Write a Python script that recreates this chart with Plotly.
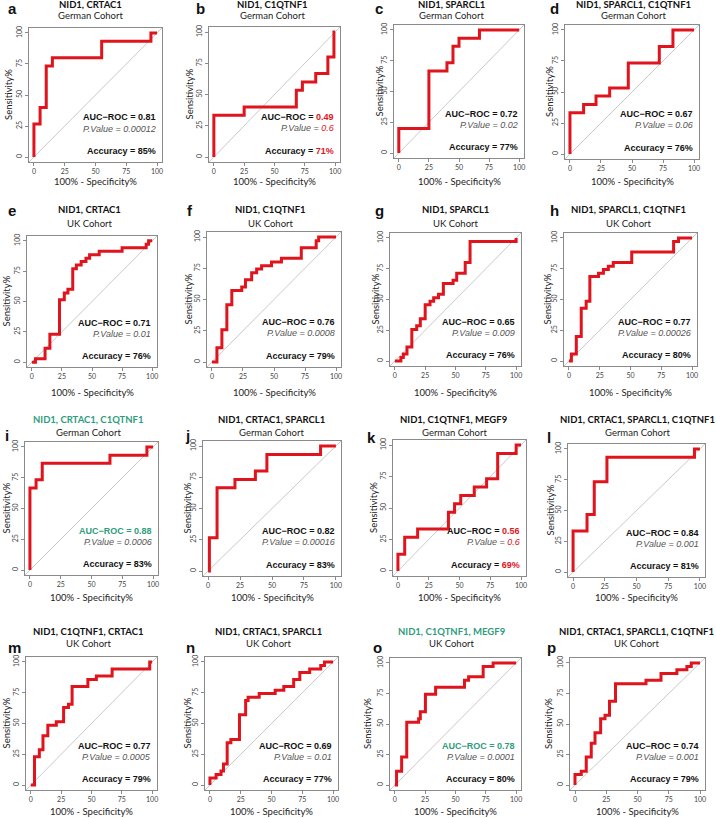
import plotly.graph_objects as go

# ---------------- data ----------------
letters = list("abcdefghijklmnop")
titles = ["NID1, CRTAC1", "NID1, C1QTNF1", "NID1, SPARCL1", "NID1, SPARCL1, C1QTNF1",
          "NID1, CRTAC1", "NID1, C1QTNF1", "NID1, SPARCL1", "NID1, SPARCL1, C1QTNF1",
          "NID1, CRTAC1, C1QTNF1", "NID1, CRTAC1, SPARCL1", "NID1, C1QTNF1, MEGF9",
          "NID1, CRTAC1, SPARCL1, C1QTNF1",
          "NID1, C1QTNF1, CRTAC1", "NID1, CRTAC1, SPARCL1", "NID1, C1QTNF1, MEGF9",
          "NID1, CRTAC1, SPARCL1, C1QTNF1"]
cohorts = ["German Cohort"] * 4 + ["UK Cohort"] * 4 + ["German Cohort"] * 4 + ["UK Cohort"] * 4
auc_roc = ["0.81", "0.49", "0.72", "0.67", "0.71", "0.76", "0.65", "0.77",
           "0.88", "0.82", "0.56", "0.84", "0.77", "0.69", "0.78", "0.74"]
p_values = ["0.00012", "0.6", "0.02", "0.06", "0.01", "0.0008", "0.009", "0.00026",
            "0.0006", "0.00016", "0.6", "0.001", "0.0005", "0.01", "0.0001", "0.001"]
accuracy = ["85%", "71%", "77%", "76%", "76%", "79%", "76%", "80%",
            "83%", "83%", "69%", "81%", "79%", "77%", "80%", "79%"]
# highlight: 'green' = best combination, 'red' = not significant
highlight = [None, "red", None, None, None, None, None, None,
             "green", None, "red", None, None, None, "green", None]

# ROC step curves: 100% - specificity (x) and sensitivity (y), in %
fpr_a = [0, 0, 5, 10, 15, 55, 95, 100]
sens_a = [0, 26.7, 40, 73.3, 80, 93.3, 100, 100]
fpr_b = [0, 0, 25, 68, 73, 84, 94, 99, 100]
sens_b = [0, 33.3, 40, 53.3, 60, 66.7, 80, 100, 100]
fpr_c = [0, 0, 25, 40, 45, 50, 67, 100]
sens_c = [0, 20, 66.7, 73.3, 86.7, 93.3, 100, 100]
fpr_d = [0, 0, 11, 21, 32, 47, 72, 83, 100]
sens_d = [0, 33.3, 40, 46.7, 53.3, 73.3, 86.7, 100, 100]
fpr_e = [0, 3, 11, 15, 23, 27, 30, 34, 37, 41, 45, 48, 56, 75, 95, 97, 100]
sens_e = [0, 2.9, 11.4, 22.9, 51.4, 57.1, 60, 77.1, 80, 82.9, 85.7, 88.6, 91.4, 94.3, 97.1, 100, 100]
fpr_f = [0, 4, 8, 12, 16, 24, 27, 32, 36, 40, 48, 56, 72, 84, 86, 100]
sens_f = [0, 11.4, 25.7, 45.7, 57.1, 60, 65.7, 71.4, 74.3, 77.1, 80, 82.9, 91.4, 97.1, 100, 100]
fpr_g = [0, 5, 7, 10, 14, 18, 21, 25, 29, 32, 36, 40, 48, 51, 58, 62, 100]
sens_g = [0, 2.9, 5.7, 11.4, 25.7, 28.6, 34.3, 45.7, 48.6, 51.4, 54.3, 62.9, 65.7, 71.4, 80, 97.1, 100]
fpr_h = [0, 2, 6, 10, 14, 17, 24, 28, 32, 36, 51, 85, 89, 100]
sens_h = [0, 5.7, 20, 42.9, 48.6, 68.6, 71.4, 74.3, 77.1, 80, 88.6, 97.1, 100, 100]
fpr_i = [0, 0, 5, 10, 65, 95, 100]
sens_i = [0, 66.7, 73.3, 86.7, 93.3, 100, 100]
fpr_j = [0, 1, 7, 21, 37, 46, 88, 100]
sens_j = [0, 26.7, 66.7, 73.3, 80, 93.3, 100, 100]
fpr_k = [0, 0, 5.5, 16, 41, 46, 51, 62, 72, 81, 96, 100]
sens_k = [0, 13.3, 26.7, 33.3, 46.7, 53.3, 60, 66.7, 73.3, 93.3, 100, 100]
fpr_l = [0, 0, 11, 16.7, 26.7, 95.7, 100]
sens_l = [0, 33.3, 46.7, 73.3, 93.3, 100, 100]
fpr_m = [0, 3, 7, 10, 14, 21, 27, 31, 34, 47, 54, 67, 98, 100]
sens_m = [0, 22.9, 28.6, 40, 48.6, 51.4, 62.9, 65.7, 80, 85.7, 88.6, 94.3, 100, 100]
fpr_n = [0, 0, 5, 9, 11, 14, 17, 24, 29, 31, 40, 53, 60, 68, 73, 81, 90, 93, 100]
sens_n = [0, 5.7, 8.6, 11.4, 17.1, 34.3, 37.1, 57.1, 68.6, 71.4, 74.3, 77.1, 80, 85.7, 91.4, 94.3, 97.1, 100, 100]
fpr_o = [0, 1.4, 5.6, 9.8, 19.6, 21, 25.2, 33.6, 57.4, 60.8, 72.8, 81, 100]
sens_o = [0, 11.4, 22.9, 51.4, 54.3, 60, 74.3, 80, 85.7, 88.6, 97.1, 100, 100]
fpr_p = [0, 0, 5, 9, 13, 16, 20.5, 24, 27.6, 32.4, 56.8, 68.8, 81.5, 89.5, 93, 100]
sens_p = [0, 8.6, 11.4, 22.9, 34.3, 42.9, 54.3, 57.1, 68.6, 82.9, 85.7, 91.4, 94.3, 97.1, 100, 100]

tick_vals = [0, 25, 50, 75, 100]
tick_text = ["0", "25", "50", "75", "100"]

curves_x = [fpr_a, fpr_b, fpr_c, fpr_d, fpr_e, fpr_f, fpr_g, fpr_h,
            fpr_i, fpr_j, fpr_k, fpr_l, fpr_m, fpr_n, fpr_o, fpr_p]
curves_y = [sens_a, sens_b, sens_c, sens_d, sens_e, sens_f, sens_g, sens_h,
            sens_i, sens_j, sens_k, sens_l, sens_m, sens_n, sens_o, sens_p]

# ---------------- layout (pixel boxes: left, right, top, bottom) ----------------
W, H = 716, 818
boxes = [(29, 162, 28, 162), (209, 340, 27, 162), (394, 524, 25, 158), (565, 699, 25, 159),
         (27, 157, 236, 367), (207, 341, 232, 367), (390, 521, 233, 366), (564, 697, 233, 366),
         (25, 158, 442, 575), (203, 341, 441, 576), (393, 526, 440, 576), (568, 705, 444, 577),
         (26, 157, 657, 790), (205, 338, 657, 790), (390, 521, 658, 790), (570, 705, 658, 790)]
title_x = [90, 272, 452, 633, 89, 270, 455, 628, 88, 271, 454, 637, 88, 268, 452, 636]
row_title_y = [4, 209, 419, 631]
row_sub_y = [16, 223, 432, 643]
row_xtitle_y = [182, 392, 597, 811]
letter_pos = [(6, 8), (194, 8), (373, 8), (548, 8),
              (6, 210), (185, 210), (373, 210), (548, 210),
              (3, 435), (183, 435), (365, 437), (545, 437),
              (6, 647), (184, 647), (371, 647), (545, 647)]
ytitle_x = [9, 189, 379, 550, 6, 188, 375, 547, 6, 187, 373, 550, 6, 187, 367, 548]

RED = "#e0141c"
GREEN = "#2f9c7c"
GREY_LINE = "#8a8a8a"
AX_RANGE = [-4, 104]

fig = go.Figure()
annotations = []
shapes = []


def px_x(v):
    return v / W


def px_y(v):
    return 1 - v / H


for k in range(16):
    n = k + 1
    xa = "x" if n == 1 else f"x{n}"
    ya = "y" if n == 1 else f"y{n}"
    xkey = "xaxis" if n == 1 else f"xaxis{n}"
    ykey = "yaxis" if n == 1 else f"yaxis{n}"
    l, r, t, b = boxes[k]
    row = k // 4
    axis_common = dict(range=AX_RANGE, showgrid=False, zeroline=False, showline=True,
                       mirror=True, linecolor=GREY_LINE, linewidth=1, automargin=False,
                       ticks="outside", ticklen=3, tickcolor=GREY_LINE, tickwidth=1,
                       tickvals=tick_vals, ticktext=tick_text,
                       tickfont=dict(family="Lato", size=7, color="#444"),
                       fixedrange=True)
    fig.update_layout({
        xkey: dict(domain=[px_x(l), px_x(r)], anchor=ya, **axis_common),
        ykey: dict(domain=[px_y(b), px_y(t)], anchor=xa, tickangle=-90, **axis_common),
    })
    # diagonal reference
    shapes.append(dict(type="line", xref=f"{xa} domain", yref=f"{ya} domain",
                       x0=0, y0=0, x1=1, y1=1, line=dict(color="#c9c9c9", width=1), layer="below"))
    # ROC curve
    fig.add_trace(go.Scatter(x=curves_x[k], y=curves_y[k], mode="lines", line_shape="hv",
                             line=dict(color=RED, width=3), xaxis=xa, yaxis=ya,
                             hoverinfo="skip", showlegend=False))

    hl = highlight[k]
    tcol = GREEN if hl == "green" else "#111"
    annotations.append(dict(xref="paper", yref="paper", x=px_x(title_x[k]), y=px_y(row_title_y[row]),
                            text=f"<b>{titles[k]}</b>", showarrow=False, xanchor="center", yanchor="middle",
                            font=dict(family="Lato", size=9.5, color=tcol)))
    annotations.append(dict(xref="paper", yref="paper", x=px_x(title_x[k]), y=px_y(row_sub_y[row]),
                            text=cohorts[k], showarrow=False, xanchor="center", yanchor="middle",
                            font=dict(family="Lato", size=9.5, color="#222")))
    lx, ly = letter_pos[k]
    annotations.append(dict(xref="paper", yref="paper", x=px_x(lx), y=px_y(ly),
                            text=f"<b>{letters[k]}</b>", showarrow=False, xanchor="left", yanchor="middle",
                            font=dict(family="Liberation Sans", size=15, color="#111")))
    # axis titles
    annotations.append(dict(xref="paper", yref="paper", x=px_x((l + r) / 2), y=px_y(row_xtitle_y[row]),
                            text="100% - Specificity%", showarrow=False, xanchor="center", yanchor="middle",
                            font=dict(family="Lato", size=9.5, color="#222")))
    annotations.append(dict(xref="paper", yref="paper", x=px_x(ytitle_x[k]), y=px_y((t + b) / 2),
                            text="Sensitivity%", showarrow=False, textangle=-90,
                            xanchor="center", yanchor="middle",
                            font=dict(family="Lato", size=9.5, color="#222")))
    # statistics text
    if hl == "red":
        auc_txt = f"<b>AUC\u2212ROC = <span style='color:{RED}'>{auc_roc[k]}</span></b>"
        p_txt = f"<i>P.Value = <span style='color:{RED}'>{p_values[k]}</span></i>"
        acc_txt = f"<b>Accuracy = <span style='color:{RED}'>{accuracy[k]}</span></b>"
    elif hl == "green":
        auc_txt = f"<b><span style='color:{GREEN}'>AUC\u2212ROC = {auc_roc[k]}</span></b>"
        p_txt = f"<i>P.Value = {p_values[k]}</i>"
        acc_txt = f"<b>Accuracy = {accuracy[k]}</b>"
    else:
        auc_txt = f"<b>AUC\u2212ROC = {auc_roc[k]}</b>"
        p_txt = f"<i>P.Value = {p_values[k]}</i>"
        acc_txt = f"<b>Accuracy = {accuracy[k]}</b>"
    for txt, yv, col in [(auc_txt, 32, "#111"), (p_txt, 23, "#555"), (acc_txt, 5, "#111")]:
        annotations.append(dict(xref=xa, yref=ya, x=101, y=yv, text=txt, showarrow=False,
                                xanchor="right", yanchor="middle",
                                font=dict(family="Liberation Sans", size=9, color=col)))

fig.update_layout(width=W, height=H, margin=dict(l=0, r=0, t=0, b=0),
                  paper_bgcolor="white", plot_bgcolor="white", showlegend=False,
                  annotations=annotations, shapes=shapes)

fig.write_html("out.html", config={"displayModeBar": False},
               post_script="document.body.style.margin='0';")
